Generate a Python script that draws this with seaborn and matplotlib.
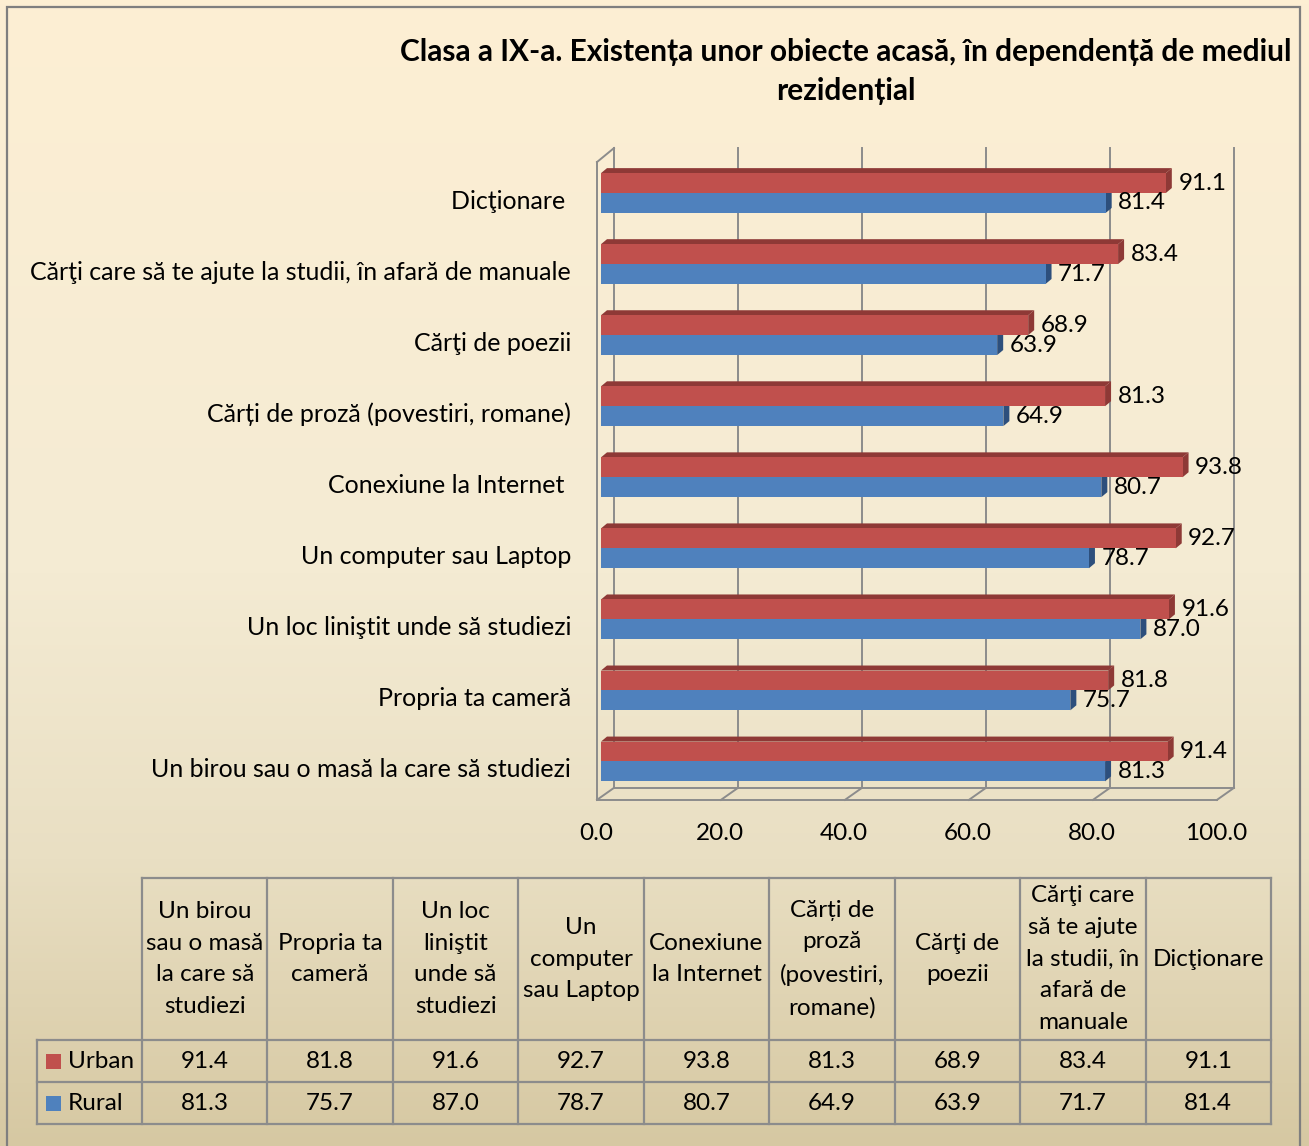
import matplotlib
matplotlib.use("Agg")
import matplotlib.pyplot as plt
import matplotlib.transforms as mtransforms
from matplotlib.colors import LinearSegmentedColormap
from matplotlib.lines import Line2D
from matplotlib.patches import Polygon, Rectangle
import numpy as np
import pandas as pd
import seaborn as sns

# chart order, top to bottom
categories = [
    "Dicţionare ",
    "Cărţi care să te ajute la studii, în afară de manuale",
    "Cărţi de poezii",
    "Cărți de proză (povestiri, romane)",
    "Conexiune la Internet ",
    "Un computer sau Laptop",
    "Un loc liniştit unde să studiezi",
    "Propria ta cameră",
    "Un birou sau o masă la care să studiezi",
]
urban = [91.1, 83.4, 68.9, 81.3, 93.8, 92.7, 91.6, 81.8, 91.4]
rural = [81.4, 71.7, 63.9, 64.9, 80.7, 78.7, 87.0, 75.7, 81.3]
series = ["Urban", "Rural"]
x_ticks = [0, 20, 40, 60, 80, 100]

# the data table below runs in the opposite order
table_headers = [
    "Un birou\nsau o masă\nla care să\nstudiezi",
    "Propria ta\ncameră",
    "Un loc\nliniştit\nunde să\nstudiezi",
    "Un\ncomputer\nsau Laptop",
    "Conexiune\nla Internet",
    "Cărți de\nproză\n(povestiri,\nromane)",
    "Cărţi de\npoezii",
    "Cărţi care\nsă te ajute\nla studii, în\nafară de\nmanuale",
    "Dicţionare",
]

title = "Clasa a IX-a. Existența unor obiecte acasă, în dependență de mediul\nrezidențial"

colors = {"Urban": "#C0504D", "Rural": "#4F81BD"}
dark = {"Urban": "#8E3936", "Rural": "#2D4F7C"}
grid_col = "#8C8C8C"
fs = 17.5

plt.rcParams["font.family"] = ["Lato", "DejaVu Sans"]
plt.rcParams["text.color"] = "black"

W, H = 1309, 1146
fig = plt.figure(figsize=(W / 100, H / 100), dpi=100)


def box(x0, y0, x1, y1):
    # pixel box (origin top-left) -> figure fraction rect
    return [x0 / W, 1 - y1 / H, (x1 - x0) / W, (y1 - y0) / H]


# background gradient + frame
bg = fig.add_axes([0, 0, 1, 1], zorder=-10)
cmap = LinearSegmentedColormap.from_list(
    "bg", [(0, "#FDEFD3"), (0.5, "#F4EBD3"), (0.75, "#E9DFC3"), (1, "#D6C8A2")])
bg.imshow(np.linspace(0, 1, 256).reshape(-1, 1), aspect="auto", cmap=cmap,
          extent=[0, 1, 0, 1])
bg.set_xlim(0, 1)
bg.set_ylim(0, 1)
bg.axis("off")
bg.add_patch(Rectangle((7 / W, -0.01), (1300 - 7) / W, 1.01 - 7 / H,
                       fill=False, ec="#7F7F7F", lw=1.6))

# main bar chart
ax = fig.add_axes(box(601, 157.5, 1221, 797))
ax.set_facecolor("none")
df = pd.DataFrame({
    "item": categories * 2,
    "grup": ["Urban"] * len(urban) + ["Rural"] * len(rural),
    "val": urban + rural,
})
sns.barplot(data=df, x="val", y="item", hue="grup", order=categories,
            hue_order=series, palette=colors, orient="h", width=0.56,
            saturation=1, linewidth=0, errorbar=None, legend=False, ax=ax)
ax.set_xlim(0, 100)
ax.set_ylim(8.5, -0.5)
for s in ax.spines.values():
    s.set_visible(False)
ax.set_xlabel("")
ax.set_ylabel("")
ax.set_xticks(x_ticks)
ax.set_xticklabels([f"{t:.1f}" for t in x_ticks])
ax.tick_params(axis="x", length=0, pad=19, labelsize=fs)
ax.tick_params(axis="y", length=0, pad=21.5, labelsize=18)
down = mtransforms.ScaledTranslation(0, -6 / 100, fig.dpi_scale_trans)
for lab in ax.get_yticklabels():
    lab.set_transform(lab.get_transform() + down)
left = mtransforms.ScaledTranslation(-5 / 100, 0, fig.dpi_scale_trans)
for lab in ax.get_xticklabels():
    lab.set_transform(lab.get_transform() + left)

ident = mtransforms.IdentityTransform()

# 3d look: top and side faces of the bars
dx, dy = 6, 5
for cont, name in zip(ax.containers, series):
    for p in cont:
        p.set_zorder(3)
        (l, b), (r, t) = ax.transData.transform(
            [(p.get_x(), p.get_y() + p.get_height()), (p.get_x() + p.get_width(), p.get_y())])
        top = [(l, t), (r, t), (r + dx, t + dy), (l + dx, t + dy)]
        side = [(r, b), (r, t), (r + dx, t + dy), (r + dx, b + dy)]
        for poly in (top, side):
            ax.add_patch(Polygon(poly, closed=True, fc=dark[name], ec="none",
                                 transform=ident, zorder=2, clip_on=False))
    ax.bar_label(cont, fmt="%.1f", padding=9, fontsize=fs, zorder=4)

# back wall grid, floor and left wall
y_floor, y_top_back, y_top_front = 8.54, -0.464, -0.436


def front(x, y):
    px, py = ax.transData.transform((x, y))
    return px - 4, py


def back(x, y):
    px, py = ax.transData.transform((x, y))
    return px + 13, py + 12


def seg(p0, p1):
    ax.add_line(Line2D([p0[0], p1[0]], [p0[1], p1[1]], color=grid_col, lw=1.4,
                       transform=ident, zorder=1, clip_on=False))


for t in x_ticks:
    seg(back(t, y_floor), back(t, y_top_back))
    seg(front(t, y_floor), back(t, y_floor))
seg(front(x_ticks[0], y_floor), front(x_ticks[-1], y_floor))
seg(back(x_ticks[0], y_floor), back(x_ticks[-1], y_floor))
seg(front(x_ticks[0], y_floor), front(x_ticks[0], y_top_front))
seg(front(x_ticks[0], y_top_front), back(x_ticks[0], y_top_back))

fig.text(846 / W, 1 - 71.5 / H, title, ha="center", va="center",
         multialignment="center", fontsize=21.5, fontweight="bold", linespacing=1.45)

# data table
tx = fig.add_axes(box(37, 878, 1271, 1124))
tx.set_xlim(37, 1271)
tx.set_ylim(1124, 878)
tx.axis("off")
col0 = 142
cw = (1271 - col0) / len(table_headers)
rows = [878, 1040, 1082, 1124]


def tline(xs, ys):
    tx.add_line(Line2D(xs, ys, color=grid_col, lw=1.6, clip_on=False))


tline([col0, 1271], [rows[0], rows[0]])
for r in rows[1:]:
    tline([37, 1271], [r, r])
tline([37, 37], [rows[1], rows[3]])
for k in range(len(table_headers) + 1):
    x = col0 + k * cw
    tline([x, x], [rows[0], rows[3]])

for k, head in enumerate(table_headers):
    cx = col0 + (k + 0.5) * cw
    tx.text(cx, (rows[0] + rows[1]) / 2, head, ha="center", va="center",
            multialignment="center", fontsize=fs, linespacing=1.62)

table_vals = {"Urban": urban[::-1], "Rural": rural[::-1]}
for i, name in enumerate(series):
    cy = (rows[i + 1] + rows[i + 2]) / 2
    tx.add_patch(Rectangle((46, cy - 7.5), 15, 15, fc=colors[name], ec="none"))
    tx.text(68, cy, name, ha="left", va="center", fontsize=fs)
    for k, v in enumerate(table_vals[name]):
        tx.text(col0 + (k + 0.5) * cw, cy, f"{v:.1f}", ha="center", va="center",
                fontsize=fs)

fig.savefig("out.png", dpi=100)
